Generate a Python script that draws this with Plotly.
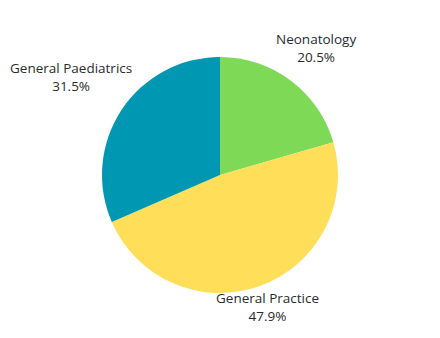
import math
import plotly.graph_objects as go

categories = ["Neonatology", "General Practice", "General Paediatrics"]
values = [20.5, 47.9, 31.5]
colors = ["#7ED957", "#FFDE59", "#0097B2"]
label_dist = [1.35, 1.19, 1.51]  # radial label distance, in pie radii (styling)

W, H = 440, 338
MT, MB = 57, 45
plot_w, plot_h = W, H - MT - MB
radius = min(plot_w, plot_h) / 2

fig = go.Figure(go.Pie(
    labels=categories,
    values=values,
    sort=False,
    direction="clockwise",
    rotation=0,
    marker=dict(colors=colors, line=dict(width=0)),
    textinfo="none",
    hoverinfo="label+value",
    showlegend=False,
))

total = sum(values)
cum = 0.0
for cat, val, k in zip(categories, values, label_dist):
    mid = (cum + val / 2) / total * 2 * math.pi
    cum += val
    x = 0.5 + k * radius * math.sin(mid) / plot_w
    y = 0.5 + k * radius * math.cos(mid) / plot_h
    fig.add_annotation(
        x=x, y=y, xref="paper", yref="paper",
        text=f"{cat}<br>{val:.1f}%",
        showarrow=False, xanchor="center", yanchor="middle",
        font=dict(family="Open Sans", size=13.5, color="#2b2b2b"),
    )

fig.update_layout(
    width=W, height=H,
    margin=dict(l=0, r=0, t=MT, b=MB),
    paper_bgcolor="white",
    plot_bgcolor="white",
)

fig.write_html("out.html")
